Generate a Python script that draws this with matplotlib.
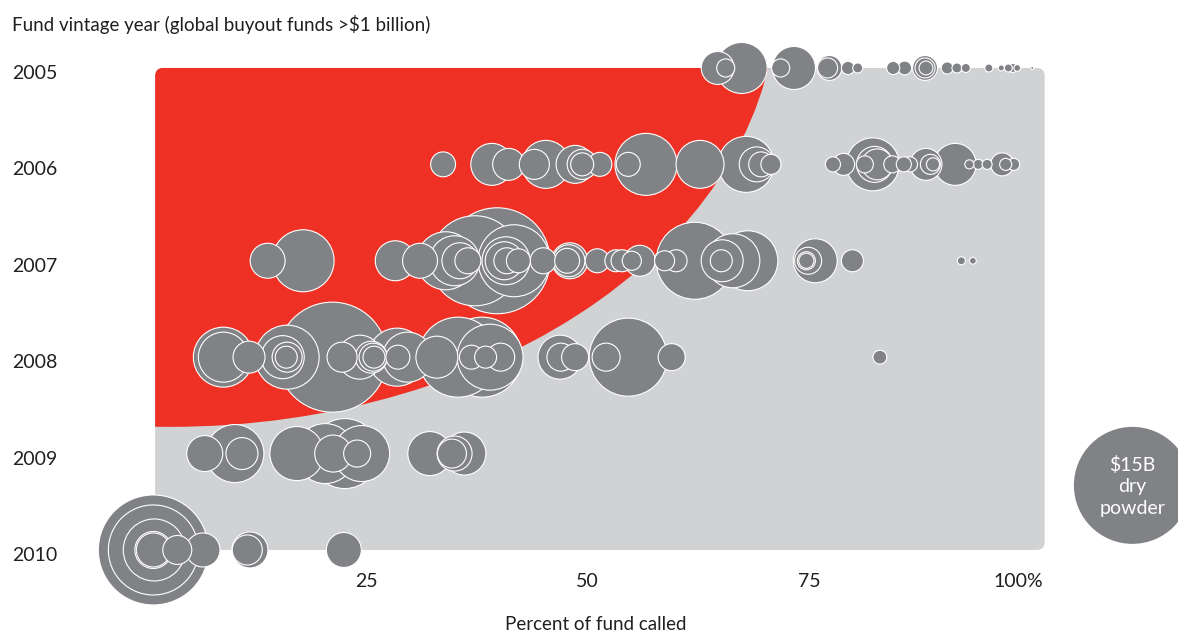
import numpy as np
import matplotlib
matplotlib.use('Agg')
import matplotlib.pyplot as plt
from matplotlib.patches import FancyBboxPatch, Ellipse
from matplotlib.transforms import ScaledTranslation

plt.rcParams['font.family'] = ['Lato', 'DejaVu Sans']

# vintage rows, top to bottom
years = [2005, 2006, 2007, 2008, 2009, 2010]

# percent of fund called and remaining dry powder ($B) for each fund
called_2005 = [64.7, 67.4, 65.6, 73.3, 71.8, 77.3, 77.1, 79.4, 80.5, 84.5, 85.8, 88.1,
               88.1, 88.2, 90.6, 91.7, 92.7, 95.3, 96.7, 97.5, 98.0, 98.5, 100.2]
powder_2005 = [1.19, 2.85, 0.36, 2.03, 0.36, 0.68, 0.44, 0.19, 0.11, 0.19, 0.21, 0.68,
               0.44, 0.21, 0.16, 0.11, 0.09, 0.07, 0.04, 0.07, 0.09, 0.05, 0.01]

called_2006 = [33.7, 41.1, 39.2, 45.3, 44.0, 48.6, 49.4, 49.4, 51.4, 56.6, 54.6, 62.7,
               67.9, 69.1, 69.6, 70.7, 77.7, 78.9, 82.2, 81.3, 82.4, 82.7, 84.4, 85.7,
               86.4, 88.2, 88.7, 89.0, 91.5, 93.1, 94.1, 95.1, 96.8, 97.2, 98.1]
powder_2006 = [0.68, 1.12, 1.93, 2.52, 0.99, 1.58, 0.99, 0.58, 0.63, 4.21, 0.63, 2.52,
               3.44, 1.34, 0.68, 0.44, 0.25, 0.53, 3.08, 0.32, 1.42, 1.05, 0.32, 0.25,
               0.25, 1.12, 0.44, 0.19, 1.93, 0.09, 0.11, 0.11, 0.58, 0.16, 0.16]

called_2007 = [13.9, 17.9, 28.3, 31.1, 34.0, 35.0, 35.6, 36.5, 37.3, 39.8, 41.7, 40.8,
               40.6, 40.9, 42.2, 45.0, 47.9, 48.0, 47.7, 51.1, 53.2, 53.9, 55.9, 55.0,
               58.7, 60.0, 62.1, 65.2, 65.1, 66.4, 68.1, 75.7, 74.9, 74.7, 74.7, 79.9,
               92.2, 93.5]
powder_2007 = [1.34, 4.21, 1.75, 1.34, 3.69, 2.74, 1.42, 0.74, 8.88, 12.3, 5.68, 2.52,
               1.58, 0.74, 0.63, 0.74, 1.12, 1.42, 0.68, 0.63, 0.53, 0.53, 1.05, 0.40,
               0.44, 0.53, 6.5, 1.93, 0.53, 3.2, 3.94, 2.12, 0.80, 0.36, 0.25, 0.53,
               0.07, 0.05]

called_2008 = [8.9, 8.9, 11.8, 16.1, 15.6, 16.1, 16.0, 21.2, 22.3, 24.3, 25.6, 25.8,
               25.9, 28.5, 29.7, 28.6, 33.0, 35.4, 38.1, 39.0, 36.9, 38.5, 40.2, 46.9,
               47.0, 48.6, 54.6, 52.1, 59.5, 83.0]
powder_2008 = [3.94, 2.74, 1.12, 4.49, 2.03, 0.99, 0.53, 13.26, 0.99, 2.12, 1.12, 0.86,
               0.53, 3.69, 2.74, 0.63, 1.93, 7.01, 7.01, 4.77, 0.63, 0.53, 0.86, 2.12,
               0.86, 0.80, 6.67, 0.86, 0.80, 0.21]

called_2009 = [6.8, 10.2, 11.0, 17.2, 20.4, 22.6, 24.5, 21.3, 24.0, 32.2, 36.1, 35.0, 34.7]
powder_2009 = [1.42, 3.69, 1.12, 3.2, 3.94, 5.37, 3.44, 1.5, 0.8, 2.12, 2.03, 1.34, 0.92]

called_2010 = [1.0, 1.0, 1.1, 1.0, 1.0, 3.7, 6.6, 11.6, 11.9, 22.5]
powder_2010 = [13.26, 8.88, 4.21, 1.5, 1.27, 0.92, 1.27, 0.99, 1.42, 1.34]

legend_powder = 15  # $B reference bubble

x_ticks = [25, 50, 75, 100]
x_tick_labels = ['25', '50', '75', '100%']

RED = '#ee3124'
PANEL = '#d1d2d4'
BUBBLE = '#808285'
TEXT = '#231f20'
R_LEGEND_PX = 58.5  # radius of the $15B bubble in pixels

W, H = 1178, 633
fig = plt.figure(figsize=(W / 100, H / 100), dpi=100)
ax = fig.add_axes([144.5 / W, (H - 565) / H, 886 / W, 565 / H])
ax.set_xlim(0, 100)
ax.set_ylim(2010.156, 2004.295)
for s in ax.spines.values():
    s.set_visible(False)
ax.patch.set_alpha(0)


def marker_area(v):
    r_px = R_LEGEND_PX * np.sqrt(np.asarray(v) / legend_powder)
    return (2 * r_px * 0.72) ** 2


# grey panel with the red "behind schedule" zone
panel = FancyBboxPatch((1.2, 2005.0), 100.4, 5.0,
                       boxstyle='round,pad=0,rounding_size=0.9',
                       mutation_aspect=8.86 / 96.4,
                       facecolor=PANEL, edgecolor='none', zorder=1, clip_on=False)
ax.add_patch(panel)
zone = Ellipse((2.88, 2004.243), 2 * 68.5, 2 * 4.48, facecolor=RED,
               edgecolor='none', zorder=2)
ax.add_patch(zone)
zone.set_clip_path(panel)

# bubbles, biggest first so the small ones sit on top
rows = [(2005, called_2005, powder_2005), (2006, called_2006, powder_2006),
        (2007, called_2007, powder_2007), (2008, called_2008, powder_2008),
        (2009, called_2009, powder_2009), (2010, called_2010, powder_2010)]
df_x, df_y, df_v = [], [], []
for yr, c, p in rows:
    df_x += c
    df_y += [yr] * len(c)
    df_v += p
order = np.argsort(df_v)[::-1]
df_x = np.array(df_x)[order]
df_y = np.array(df_y)[order]
df_v = np.array(df_v)[order]
ax.scatter(df_x, df_y, s=marker_area(df_v), c=BUBBLE, edgecolors='white',
           linewidths=0.8, clip_on=False, zorder=3)

# legend bubble
ax.scatter([111.5], [2009.33], s=marker_area([legend_powder]), c=BUBBLE,
           edgecolors='none', clip_on=False, zorder=3)
ax.text(111.5, 2009.34, '\\$15B\ndry\npowder', ha='center', va='center',
        color='white', fontsize=14, linespacing=1.3, zorder=4)

# axes text
ax.set_xticks(x_ticks)
ax.set_xticklabels(x_tick_labels)
ax.tick_params(axis='x', length=0, pad=5.5, labelsize=14, labelcolor=TEXT)
last = ax.get_xticklabels()[-1]
last.set_transform(last.get_transform() + ScaledTranslation(-0.12, 0, fig.dpi_scale_trans))

ax.set_yticks(years)
ax.set_yticklabels([str(y) for y in years])
ax.tick_params(axis='y', length=0, pad=(144.5 - 12) * 0.72, labelsize=14, labelcolor=TEXT)
for lab in ax.get_yticklabels():
    lab.set_horizontalalignment('left')
    lab.set_transform(lab.get_transform() + ScaledTranslation(0, -0.04, fig.dpi_scale_trans))

ax.set_xlabel('Percent of fund called', fontsize=13.5, color=TEXT)
ax.xaxis.set_label_coords((596 - 144.5) / 886, (565 - 616) / 565)

fig.text(12 / W, 1 - 25 / H, 'Fund vintage year (global buyout funds >\\$1 billion)',
         ha='left', va='center', fontsize=13.5, color=TEXT)

fig.savefig('out.png', dpi=100, facecolor='white')
